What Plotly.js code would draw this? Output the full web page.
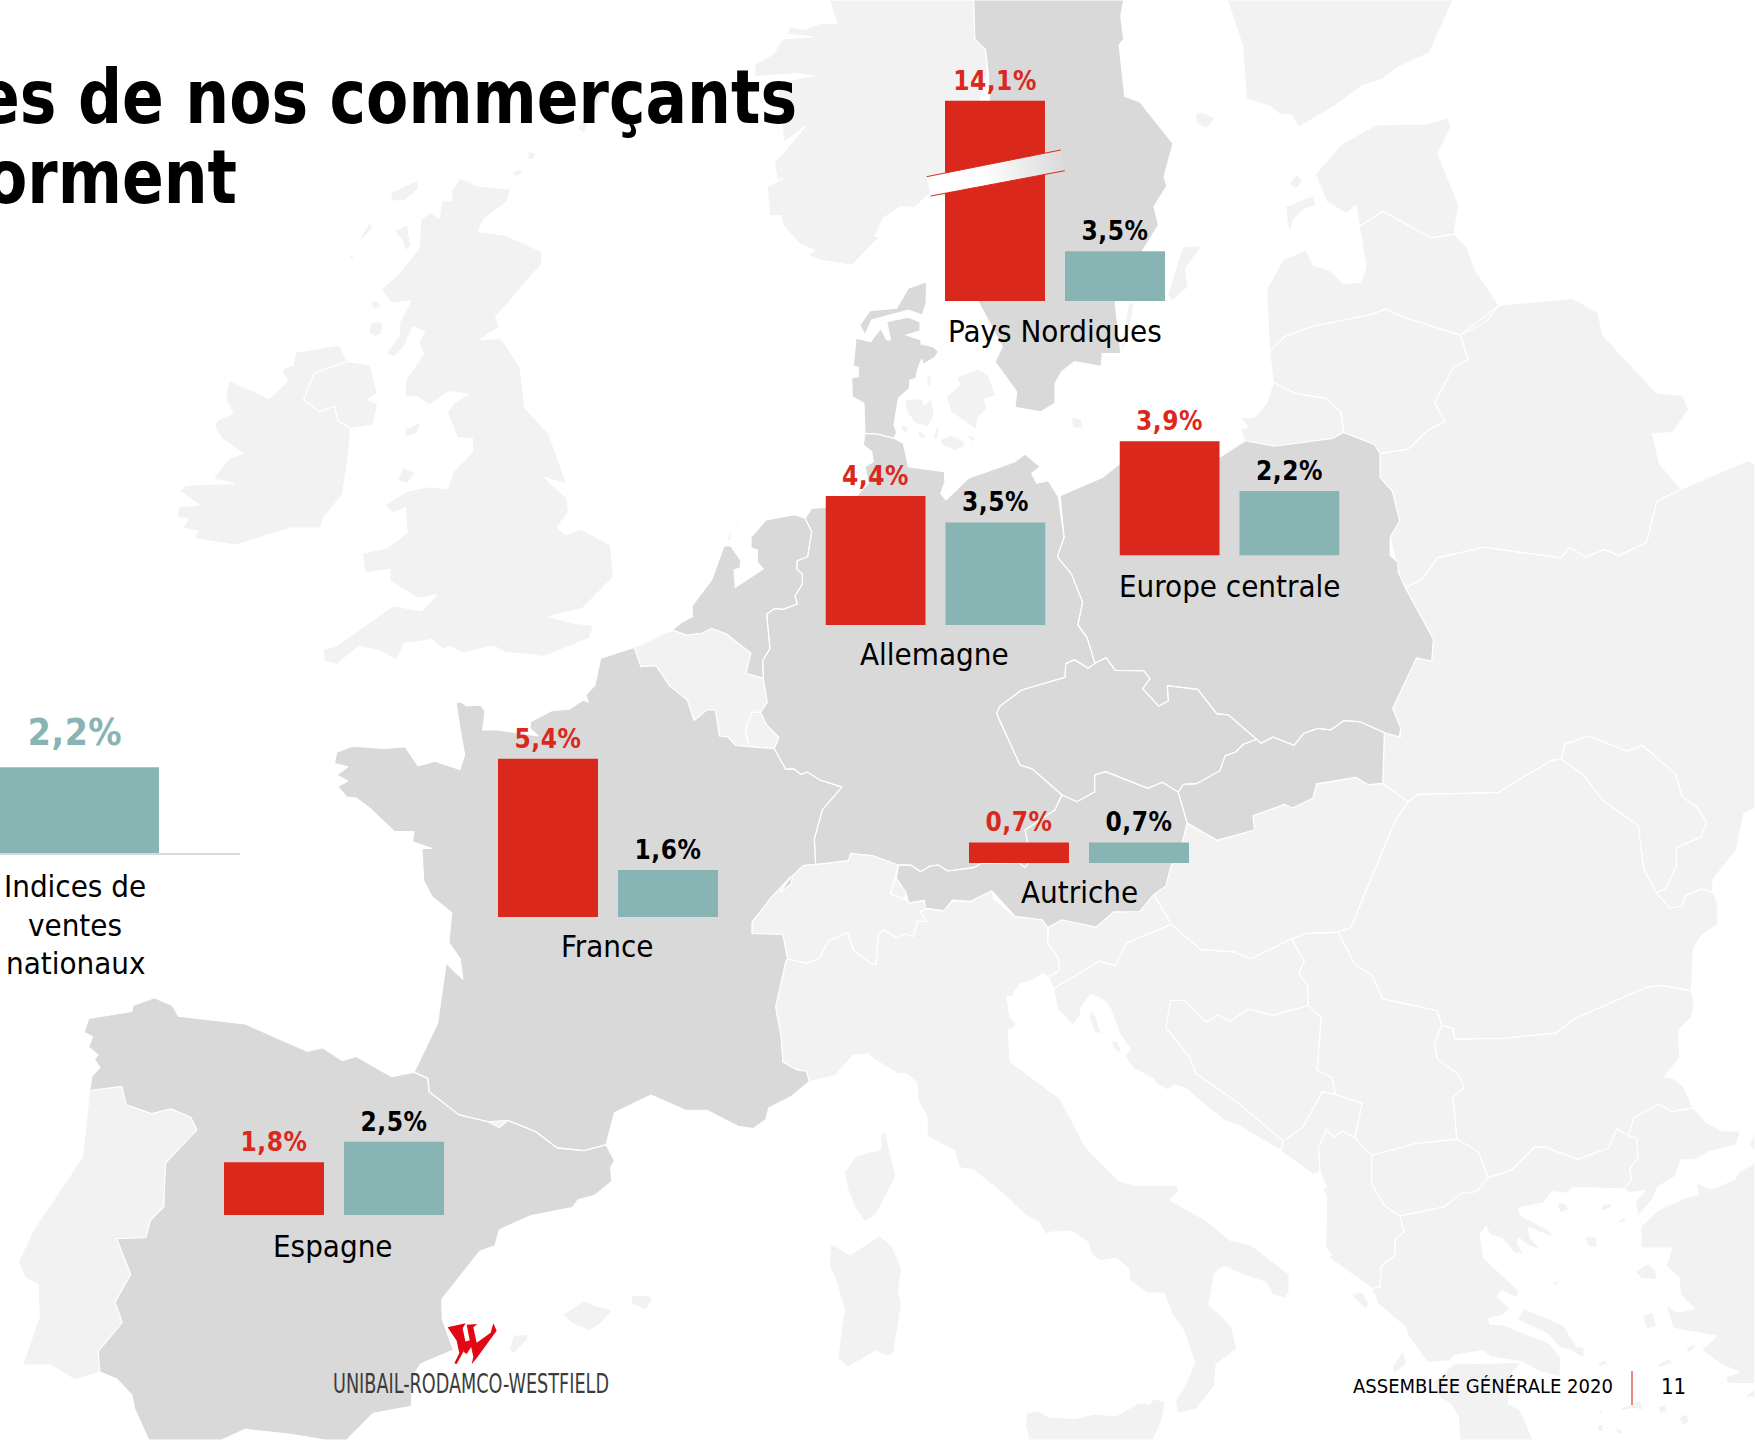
<!DOCTYPE html>
<html><head><meta charset="utf-8">
<script src="https://cdn.plot.ly/plotly-3.0.1.min.js"></script>
<style>html,body{margin:0;padding:0;background:#fff;overflow:hidden}</style>
</head><body><div id="chart" style="width:1755px;height:1440px"></div>
<script>
// ---------- data ----------
const groupNames = ['Pays Nordiques','Allemagne','Europe centrale','France','Espagne','Autriche'];
const commercants = [14.1,4.4,3.9,5.4,1.8,0.7];
const indicesNationaux = [3.5,3.5,2.2,1.6,2.5,0.7];
const seriesNames = ['Commerçants','Indices de ventes nationaux'];
const nationalName = ['Indices de','ventes','nationaux'];
const nationalValue = [2.2];
const titleLines = ['es de nos commerçants','orment'];
const footerText = 'ASSEMBLÉE GÉNÉRALE 2020';
const pageNumber = '11';
const logoText = 'UNIBAIL-RODAMCO-WESTFIELD';

// ---------- layout of the small charts on the page (pixels) ----------
const groupLeft = [945,825.5,1119.5,498,224,969];
const groupBase = [301,625,555.5,917,1215,863];
const groupPxPerPct = [14.2,29.3,29.3,29.3,29.3,29.3];
const groupLabelX = [1055,935,1229,607,333,1079];
const groupLabelY = [331,654,586,946,1246,892];

// ---------- background map ----------
const TILES = {A:[0,0,1.782,2.178],B:[875,0,1.782,2.178],C:[0,720,1.782,2.178],D:[875,720,1.782,2.178],
 G:[840,270,3,3],H:[640,500,3,3],I:[780,760,3,3],J:[1440,1120,3,3],K:[1000,620,3,3],L:[300,1300,3,3],M:[440,650,3,3],S:[0,0,.8934,.8934]};
const lightLand = [
// Ireland + N. Ireland
"A 605,752 527,767 522,795 502,805 512,830 480,868 408,828 402,870 415,900 388,915 382,928 395,955 433,987 410,997 380,1042 418,1053 330,1057 321,1070 355,1100 320,1103 315,1127 335,1130 326,1150 353,1157 346,1173 420,1187 518,1150 570,1150 578,1125 610,1078 620,1000 625,933 602,917 596,885 570,897 541,870 560,813 618,787",
"A 618,787 560,813 541,870 570,897 596,885 602,917 625,933 665,925 673,880 655,870 672,857 660,795",
// Great Britain
"A 820,388 805,415 805,437 787,437 783,475 767,463 750,478 747,540 712,595 680,630 697,660 732,655 712,703 712,730 688,770 703,778 722,750 735,712 757,722 746,745 755,770 722,830 722,866 742,863 765,882 800,853 835,858 812,875 797,897 815,953 842,955 842,985 808,1027 798,1065 765,1060 725,1070 685,1100 700,1118 722,1105 726,1160 690,1193 646,1205 650,1248 695,1240 695,1265 745,1303 778,1295 752,1330 700,1320 598,1408 576,1413 578,1440 600,1447 640,1408 678,1418 707,1438 720,1402 770,1393 790,1415 800,1408 825,1422 880,1407 900,1420 970,1430 1050,1390 1058,1362 1020,1357 978,1343 1038,1325 1093,1257 1088,1187 1035,1152 1008,1165 993,1148 1013,1115 1010,1085 970,1040 1010,1055 978,945 935,888 927,800 893,737 855,740 890,712 883,690 905,660 965,575 965,548 900,512 852,505 862,478 903,440 910,412 852,405",
"A 745,392 697,420 697,438 720,437 745,413","A 658,485 642,517 645,522 665,495","A 726,490 703,503 720,530 720,548 732,535","A 625,553 620,567 633,560","A 660,657 665,673 680,668 672,655","A 662,703 657,725 670,733 680,727 682,700","A 750,918 722,935 722,952 743,945","A 718,1017 708,1047 725,1053 740,1030","A 943,328 940,345 950,348 955,335","A 925,368 912,378 922,385 933,372","A 1080,165 1030,280 1040,290 1080,190",
// Norway
"B 176,0 A 1478,0 1492,52 1463,50 1435,64 1407,58 1403,74 1450,80 1395,85 1378,118 1345,140 1345,167 1420,160 1450,165 1385,180 1397,310 1435,275 1395,335 1380,352 1385,392 1395,388 1367,407 1372,470 1392,470 1395,490 1425,532 1452,545 1440,555 1462,567 1518,578 1552,535 1568,515 B 0,515 15,475 45,450 70,452 95,425 140,430 200,160 197,108 178,85",
// Danish islands
"G 195,390 248,385 250,405 275,385 282,435 265,470 225,460 200,425","G 350,322 415,297 445,315 468,378 430,388 442,415 415,440 408,480 378,458 332,425 320,380 360,345","G 260,320 276,315 272,345 262,350","G 300,510 330,495 375,515 370,530 345,542 305,525","G 378,495 408,503 398,518","G 183,465 205,472 200,490 185,482","G 238,483 258,497 248,508 232,495","G 290,468 300,470 290,510 280,505","G 425,487 447,480 445,487 428,492","B 350,908 368,913 370,935 352,930",
// Baltic islands
"B 548,537 583,535 553,585 558,625 528,657 522,640","B 452,658 462,660 450,740 438,770","B 572,248 580,243 607,257 590,280 572,268","B 738,400 752,378 762,395 750,412","B 732,450 782,425 785,450 765,455 745,480 740,505 735,490",
// Finland
"B 628,0 655,100 662,215 705,232 722,250 742,250 755,277 820,230 868,187 905,172 930,148 988,115 1030,0",
// Estonia, Latvia, Lithuania, Kaliningrad
"B 785,380 830,315 893,272 980,270 1020,257 1027,275 1003,335 1040,445 1032,510 990,518 905,460 863,493 857,448 840,465 805,440",
"B 698,630 727,565 768,545 782,578 812,590 835,618 865,615 875,582 863,493 905,460 990,518 1032,510 1055,538 1068,585 1112,665 1090,700 1043,730 940,690 910,673 885,685 782,710 730,733 703,765",
"B 703,765 730,733 782,710 885,685 910,673 940,690 1043,730 1057,783 1031,800 997,877 1016,918 986,936 950,978 900,988 890,968 835,942 830,897 805,868 750,857 710,833",
"B 710,833 750,857 805,868 830,897 835,942 815,955 712,972 660,960 650,935 665,930 650,910 675,910 697,880",
// Belarus
"B 1043,730 1112,665 1243,650 1288,680 1297,730 1392,855 1440,862 1450,892 1422,942 1385,945 1398,1010 1437,1065 1393,1092 1375,1182 1325,1210 1300,1197 1265,1213 1238,1192 1222,1215 1085,1192 1002,1215 975,1262 945,1280 932,1245 918,1170 935,1135 922,1070 900,1040 900,988 950,978 986,936 1016,918 997,877 1031,800 1057,783",
// Ukraine, Moldova
"B 945,1280 995,1392 992,1440 965,1433 922,1540 930,1568 D 937,37 908,28 905,138 950,178 968,162 1110,158 1205,88 1223,85 1230,52 1272,35 1340,68 1367,55 1427,118 1438,167 1465,190 1482,222 1472,255 1428,278 1428,320 1408,368 1393,377 1416,410 1438,405 1445,382 1472,368 1493,375 1493,348 1535,283 1548,205 1568,193 B 1568,1010 1555,1003 1437,1065 1393,1092 1375,1182 1325,1210 1300,1197 1265,1213 1238,1192 1222,1215 1085,1192 1002,1215 975,1262",
"D 1223,85 1230,52 1272,35 1340,68 1367,55 1427,118 1438,167 1465,190 1482,222 1472,255 1428,278 1428,320 1408,368 1393,377 1370,325 1360,230 1297,175 1263,120",
// Belgium, Luxembourg
"A 1130,1410 H 97,390 140,405 185,400 215,385 260,402 333,460 318,520 370,535 382,607 362,637 335,637 316,690 327,740 286,736 265,712 238,708 226,630 200,630 162,662 142,600 88,557 48,497 0,500 A 1142,1452",
"H 335,637 362,637 380,675 417,712 403,746 327,740 316,690",
"H 260,120 270,98 276,98 272,122","H 283,80 295,68 298,72 287,84","H 312,60 325,52 327,56 315,64","H 347,46 358,41 359,44 349,49","H 380,38 392,36 392,39 381,41",
// Switzerland, Liechtenstein
"I 107,313 205,302 212,280 280,287 355,315 345,353 332,402 372,418 392,428 437,422 437,447 420,455 440,485 412,483 400,530 375,522 350,533 310,510 295,525 288,613 272,610 220,570 203,518 145,543 118,595 80,610 20,596 C 1403,520 1395,467 1340,465 1340,440 1375,385 1410,340 I 0,398 33,372 37,348 70,316",
"I 347,353 380,395 372,418 332,402",
// Italy
"I 20,596 80,610 118,595 145,543 203,518 220,570 272,610 288,613 295,525 310,510 350,533 375,522 400,530 412,483 440,485 420,455 437,447 490,453 520,422 570,425 610,397 635,390 640,415 705,470 782,477 805,503 803,550 835,595 838,630 808,655 790,640 760,660 720,672 695,710 680,710 690,770 706,785 706,800 685,812 690,905 D 242,745 330,825 375,930 435,1003 460,1013 538,1013 542,1025 525,1045 590,1090 633,1133 670,1143 738,1207 738,1245 730,1260 708,1250 697,1225 655,1208 622,1190 605,1205 595,1275 615,1295 635,1320 645,1370 608,1403 605,1450 573,1500 540,1510 535,1485 552,1450 570,1400 550,1330 530,1295 515,1248 485,1248 455,1222 452,1195 430,1172 400,1178 385,1162 380,1138 350,1113 315,1115 305,1120 292,1095 268,1078 222,1025 175,980 150,975 142,938 93,907 93,865 77,830 75,790 55,770 40,770 0,740 C 1545,727 1520,730 1488,775 1440,788 1437,765 1420,762 1395,745 1392,690 1382,625 1400,527",
"C 1505,985 1510,1020 1525,1065 1540,1092 1558,1080 D 5,1070 37,995 25,930 18,893 10,905 10,935 0,940 C 1568,935 1525,950",
"C 1480,1140 1515,1165 1568,1122 D 0,1115 30,1145 48,1195 42,1240 47,1275 33,1380 22,1385 0,1375 C 1510,1410 1493,1390 1500,1320 1505,1285 1488,1215 1478,1190",
"D 270,1510 290,1505 310,1518 355,1522 390,1512 430,1515 470,1488 490,1490 495,1478 518,1485 510,1530 495,1568 275,1568 268,1535",
"C 1003,1295 1040,1265 1060,1275 1092,1285 1070,1315 1050,1330 1020,1315","C 1125,1252 1155,1253 1163,1262 1150,1285 1125,1270","C 908,1370 915,1340 940,1338 940,1350 915,1380",
"C 870,875 890,866 905,872 890,888",
// Slovenia, Hungary, Romania, Bulgaria
"D 308,452 333,435 394,451 425,418 472,417 497,380 528,445 449,485 428,535 400,525 318,585 308,558 329,545 327,518 308,487",
"D 555,225 610,262 675,240 673,208 735,183 745,192 780,170 787,140 855,125 880,142 905,138 950,178 925,225 848,452 825,462 768,465 742,477 670,520 640,505 580,500 528,445 497,380 518,362 527,320",
"D 950,178 968,162 1110,158 1205,88 1223,85 1263,120 1297,175 1360,230 1370,325 1393,377 1416,410 1438,405 1445,382 1472,368 1493,375 1502,400 1502,445 1472,470 1458,500 1455,590 1400,578 1375,582 1247,650 1213,682 1120,693 1033,695 1030,672 1010,665 1002,633 905,607 885,555 855,532 825,462 848,452 925,225",
"D 1455,590 1460,620 1455,648 1432,675 1434,735 1407,777 1422,780 1440,797 1458,845 1420,853 1397,836 1353,866 1342,905 1322,890 1308,932 1252,957 1193,930 1175,930 1135,980 1093,997 1075,940 1037,913 1030,822 1050,800 1038,770 1003,740 997,705 1010,665 1030,672 1033,695 1120,693 1213,682 1247,650 1375,582 1400,578",
// Serbia, Montenegro, Albania, N. Macedonia, Croatia, Bosnia
"D 742,477 768,465 825,462 855,532 885,555 905,607 1002,633 1010,665 997,705 1003,740 1038,770 1050,800 1030,822 1037,913 965,922 885,948 855,910 868,835 820,815 815,780 788,762 795,648 772,622 771,578 755,552 765,525",
"D 727,917 762,888 797,810 820,815 868,835 855,910 833,895 818,908 805,893 790,930 793,985 780,990 723,938",
"D 790,930 805,893 818,908 833,895 855,910 885,948 885,1010 908,1058 935,1080 943,1115 927,1130 927,1165 902,1190 900,1235 885,1238 808,1170 815,1165 803,1150 805,1040 798,1020 805,1017 793,985",
"D 885,948 965,922 1037,913 1075,940 1093,997 1072,1027 1042,1032 1015,1060 935,1080 908,1058 885,1010",
"D 318,585 400,525 428,535 449,485 528,445 580,500 640,505 670,520 742,477 765,525 755,552 771,578 772,622 710,643 665,630 632,657 612,642 590,658 552,611 527,611 518,670 560,733 572,770 648,835 727,917 723,938 650,885 620,870 585,835 555,803 535,795 520,805 500,790 497,783 460,758 445,732 455,717 435,680 420,630 408,610 385,597 368,625 365,645 352,665 325,628 320,590",
"D 552,611 590,658 612,642 632,657 665,630 710,643 772,622 795,648 788,762 815,780 820,815 797,810 762,888 727,917 648,835 572,770 560,733 518,670 527,611",
"D 385,630 395,650 403,685 392,680 382,650","D 420,700 432,700 440,725 430,722",
// Greece
"D 885,1238 900,1235 902,1190 927,1165 927,1130 943,1115 935,1080 1015,1060 1042,1032 1072,1027 1093,997 1135,980 1175,930 1193,930 1252,957 1308,932 1322,890 1342,905 1357,910 1360,953 1345,978 1348,1000 1335,1022 J 553,207 400,202 380,220 335,215 312,248 235,265 240,285 335,335 335,350 263,322 270,350 295,380 295,388 262,375 235,352 232,370 252,400 225,400 185,355 150,345 138,318 120,345 132,415 235,510 232,535 185,510 172,530 210,565 190,585 145,595 150,612 190,615 330,670 362,712 360,770 300,755 245,725 150,710 130,692 45,705 D 1025,1395 985,1400 950,1340 945,1322 897,1272",
"J 245,727 215,760 205,850 240,870 280,960 60,960 55,890 30,850 0,835 -20,800 -20,785 0,770 40,732",
"J 232,600 250,565 370,615 410,680 432,682 432,715 390,690 360,682 320,640",
"J 350,250 375,248 388,268 362,278","J 485,255 513,250 515,262 485,275","J 527,310 553,290 558,305","J 433,352 467,348 472,385 445,378","J 585,455 625,430 645,448 652,480 605,475","J 608,588 637,576 650,617 620,628","J 337,490 355,480 357,487 345,500","J 258,523 275,525 272,530","J 300,515 315,522 308,527","J 652,735 690,715 695,730 660,742","J 472,730 498,720 503,733 480,740","J 738,683 763,672 767,685 745,698","J 470,870 490,872 485,883","J 655,860 675,855 682,873 660,882","J 718,895 738,880 748,905 730,917","J 543,865 600,840 610,870 580,865 543,872","J 475,915 490,912 488,935 472,935","J 530,920 548,935 538,945 527,935","J 610,950 630,955 620,960","J 818,858 835,845 822,865",
"D 940,1375 948,1400 925,1425 922,1410","D 852,1250 868,1245 880,1270 875,1283 852,1258",
// Turkey
"D 1353,866 1397,836 1420,853 1458,845 1480,875 1510,895 1542,895 1535,925 1487,940 1462,958 1437,958 1425,995 1395,1017 1385,1045 1360,1080 1355,1050 1372,1025 1345,1030 1335,1022 1348,1000 1345,978 1360,953 1357,910 1342,905",
"D 1568,965 1538,985 1533,1000 1490,1022 1463,1008 1468,1033 1445,1040 1395,1068 1365,1103 1365,1150 1420,1150 1410,1190 1433,1215 1435,1252 1460,1282 1430,1290 1410,1275 1422,1325 1500,1342 1473,1372 1510,1405 1540,1420 1515,1432 1520,1445 1568,1445",
"D 1568,1455 1550,1475 1568,1475","D 1568,895 1558,925 1568,940",
// Portugal
"C 160,807 217,798 225,838 270,857 305,847 340,865 351,893 295,965 292,1060 268,1090 260,1127 208,1130 233,1207 205,1268 218,1312 175,1375 178,1420 133,1437 90,1405 40,1405 70,1300 68,1230 45,1215 33,1180 60,1110 110,1020 147,952"
];
const darkLand = [
// Sweden
"B 176,0 178,85 197,108 202,160 210,440 G 415,95 487,230 465,275 530,365 525,412 603,425 645,400 645,340 665,305 703,275 B 403,798 405,770 438,770 428,660 470,560 505,490 497,450 520,405 515,385 531,313 472,222 445,210 435,98 443,85 438,35 443,0",
// Denmark
"G 260,35 258,100 247,135 205,120 95,150 75,195 60,165 90,122 170,115 205,55",
"G 140,155 205,142 240,155 240,183 198,195 243,210 243,222 280,230 295,245 285,262 250,283 245,268 232,300 228,325 210,330 208,355 175,385 162,465 170,487 162,505 110,492 75,490 72,400 37,380 35,322 55,320 55,292 40,288 48,205 92,215 122,175 140,210 152,210",
// Germany
"G 75,490 110,492 162,505 190,520 205,590 313,605 315,635 302,670 318,690 345,665 385,625 525,575 555,552 600,590 575,610 590,640 625,632 655,680 B 337,1170 325,1213 350,1250 370,1312 362,1360 K 233,15 262,55 285,130 264,145 224,119 197,131 195,172 65,210 0,258 -10,280 0,305 60,435 97,447 186,525 I 845,105 825,150 735,210 742,243 745,310 735,322 715,308 605,310 580,323 503,333 475,315 450,318 422,335 392,315 355,315 280,287 212,280 205,302 107,313 103,237 127,150 185,82 H 605,860 540,840 502,816 483,823 460,806 437,808 403,746 417,712 380,675 362,637 382,607 370,535 368,482 390,445 380,342 405,325 430,328 472,312 465,288 487,252 487,222 470,207 472,182 503,170 515,95 495,55 515,25 558,22 G 50,678 85,640 75,590 100,575 95,545 70,525",
// Netherlands
"H 495,55 515,95 503,170 472,182 470,207 487,222 487,252 465,288 472,312 430,328 405,325 380,342 390,445 368,482 370,535 318,520 333,460 260,402 215,385 185,400 140,405 97,390 125,367 158,350 156,318 215,240 252,138 272,138 303,182 300,203 282,210 286,262 370,207 352,187 352,150 333,143 333,112 378,60 463,44",
// Poland
"B 330,1080 405,1040 436,1010 615,995 660,960 712,972 815,955 835,942 890,968 900,988 900,1040 922,1070 935,1135 918,1170 918,1210 932,1225 932,1245 945,1280 995,1392 992,1440 965,1433 K 1178,265 1202,325 1198,350 1153,338 1080,305 1032,302 992,330 955,325 912,340 882,376 820,351 783,370 770,358 686,285 650,281 593,208 502,197 505,243 476,258 428,206 450,176 431,152 346,151 318,113 285,130 262,55 233,15 B 362,1360 370,1312 350,1250 325,1213 337,1170",
// Czechia
"K 285,130 318,113 346,151 431,152 450,176 428,206 476,258 505,243 502,197 593,208 650,281 686,285 770,358 730,373 707,396 675,408 660,452 590,491 550,493 535,517 487,487 443,505 317,455 284,465 284,516 231,545 186,525 97,447 60,435 0,305 -10,280 0,258 65,210 195,172 197,131 224,119 264,145",
// Slovakia
"K 535,517 550,493 590,491 660,452 675,408 707,396 730,373 770,358 783,370 820,351 882,376 912,340 955,325 992,330 1032,302 1080,305 1153,338 1148,490 1105,494 1067,472 950,491 938,535 878,564 853,553 759,587 763,630 651,661 561,608",
// Austria
"K 186,525 231,545 284,516 284,465 317,455 443,505 487,487 535,517 561,608 547,666 D 527,320 518,362 497,380 472,417 425,418 394,451 333,435 308,452 298,435 250,428 208,372 170,395 138,392 123,415 90,410 88,393 60,398 55,375 38,345 42,316 I 392,315 422,335 450,318 475,315 503,333 580,323 605,310 715,308 735,322 745,310 742,243 735,210 825,150 845,105",
// France
"A 1130,1410 1142,1452 H 0,500 48,497 88,557 142,600 162,662 200,630 226,630 238,708 265,712 286,736 327,740 403,746 437,808 460,806 483,823 502,816 540,840 605,860 I 185,82 127,150 103,237 107,313 70,316 37,348 33,372 0,398 C 1410,340 1375,385 1340,440 1340,465 1395,467 1403,520 1400,527 1382,625 1392,690 1395,745 1420,762 1437,765 1442,788 1410,820 1370,845 1365,870 1342,890 1315,885 1260,850 1222,850 1160,817 1095,855 1080,925 1040,938 993,932 955,897 905,872 870,875 818,860 765,810 762,780 738,767 780,660 795,530 825,565 820,520 800,485 805,420 770,385 755,350 752,280 770,280 735,265 738,243 703,243 660,193 635,170 618,168 602,145 620,133 600,120 620,102 596,95 600,70 628,57 685,62 722,58 745,100 775,90 820,108 828,75 M 60,235 48,158 62,155 80,168 120,165 135,182 128,240 172,240 295,258 270,235 272,215 335,182 388,178 430,150 445,157 438,135 465,105 482,25",
// Spain
"C 160,807 164,775 178,757 168,738 175,730 158,712 165,690 150,680 158,650 235,635 237,622 275,605 307,622 318,645 437,662 548,722 575,714 610,742 635,733 698,777 738,767 762,780 765,810 818,860 870,875 890,888 905,872 955,897 993,932 1040,938 1080,925 1095,960 1088,975 1090,1005 1060,1035 1030,1045 1020,1062 945,1080 890,1110 882,1145 855,1157 787,1262 788,1305 808,1372 750,1402 735,1430 733,1495 665,1510 618,1568 580,1568 515,1555 437,1545 395,1568 265,1568 240,1500 235,1470 208,1435 178,1420 175,1375 218,1312 205,1268 233,1207 208,1130 260,1127 268,1090 292,1060 295,965 351,893 340,865 305,847 270,857 225,838 217,798"
];
const logoMark = ["L 443,82 497,70 488,85 497,128 490,155 470,192 463,190 478,160 470,122","L 500,74 532,72 520,82 530,128 572,98 580,70 590,92 568,122 532,172 515,193 520,170 510,125","L 494,125 512,120 514,140 500,162 490,155"];

// ---------- helpers ----------
const W=1755,H=1440, RED='#db281c', TEAL='#88b4b4', DARK='#d9d9d9', LIGHT='#f2f2f2';
const FONT='"DejaVu Sans Condensed","DejaVu Sans",sans-serif';
function parsePts(s){let t=TILES.A,o=[];s.split(/\s+/).forEach(k=>{if(TILES[k]){t=TILES[k];return;}const p=k.split(',').map(Number);o.push([t[0]+p[0]/t[2],t[1]+p[1]/t[3]]);});return o;}
function landTrace(list,color){const x=[],y=[];list.forEach(s=>{const q=parsePts(s);q.forEach(p=>{x.push(p[0]);y.push(p[1]);});x.push(q[0][0],null);y.push(q[0][1],null);});
 return {type:'scatter',mode:'lines',x,y,xaxis:'x',yaxis:'y',fill:'toself',fillcolor:color,line:{color:'#ffffff',width:1.1},hoverinfo:'skip',showlegend:false};}
const pct=v=>v.toFixed(1).replace('.',',')+'%';
const px=v=>v/W, py=v=>1-v/H;

const traces=[landTrace(lightLand,LIGHT),landTrace(darkLand,DARK)];
const layout={width:W,height:H,margin:{l:0,r:0,t:0,b:0},paper_bgcolor:'#fff',plot_bgcolor:'rgba(0,0,0,0)',showlegend:false,barmode:'overlay',dragmode:false,
 font:{family:FONT,color:'#000'},
 xaxis:{domain:[0,1],range:[0,W],visible:false,fixedrange:true},
 yaxis:{domain:[0,1],range:[H,0],visible:false,fixedrange:true},
 shapes:[],annotations:[]};

// paired bars, one small chart per region
const barW=100, pitch=120, LABEL_SIZE=31;
groupNames.forEach((name,i)=>{
 const n=i+2, xa='x'+n, ya='y'+n, maxV=Math.max(commercants[i],indicesNationaux[i])*1.05;
 const half=barW/pitch/2;
 layout['xaxis'+n]={domain:[px(groupLeft[i]),px(groupLeft[i]+pitch+barW)],range:[-half,1+half],type:'linear',visible:false,fixedrange:true,anchor:ya};
 layout['yaxis'+n]={domain:[py(groupBase[i]),py(groupBase[i]-maxV*groupPxPerPct[i])],range:[0,maxV],visible:false,fixedrange:true,anchor:xa};
 const vals=[commercants[i],indicesNationaux[i]];
 traces.push({type:'bar',x:[0,1],y:vals,width:barW/pitch,xaxis:xa,yaxis:ya,name:name,
  marker:{color:[RED,TEAL],line:{width:0}},text:vals.map(pct),textposition:'outside',cliponaxis:false,constraintext:'none',
  textfont:{family:FONT,size:26,weight:700,color:[RED,'#000']},hoverinfo:'skip'});
 layout.annotations.push({xref:'paper',yref:'paper',x:px(groupLabelX[i]),y:py(groupLabelY[i]),text:name,showarrow:false,xanchor:'center',yanchor:'middle',font:{family:FONT,size:LABEL_SIZE,color:'#000'}});
});

// national index bar (left), cut by the page edge
{const n=groupNames.length+2, base=853, perPct=39, center=75, bw=168, right=240;
 layout['xaxis'+n]={domain:[0,px(right)],range:[-center/bw,(right-center)/bw],type:'linear',fixedrange:true,anchor:'y'+n,showline:true,linecolor:DARK,linewidth:2,showgrid:false,zeroline:false,showticklabels:false,ticks:''};
 layout['yaxis'+n]={domain:[py(base),py(base-nationalValue[0]*1.05*perPct)],range:[0,nationalValue[0]*1.05],visible:false,fixedrange:true,anchor:'x'+n};
 traces.push({type:'bar',x:[0],y:nationalValue,width:1,xaxis:'x'+n,yaxis:'y'+n,name:seriesNames[1],marker:{color:TEAL,line:{width:0}},text:nationalValue.map(pct),textposition:'outside',cliponaxis:false,constraintext:'none',textfont:{family:FONT,size:37,weight:700,color:TEAL},hoverinfo:'skip'});
 nationalName.forEach((t,k)=>layout.annotations.push({xref:'paper',yref:'paper',x:px(75),y:py(886+k*38.5),text:t,showarrow:false,xanchor:'center',yanchor:'middle',font:{family:FONT,size:LABEL_SIZE,color:'#000'}}));
}

// "broken bar" band across the tallest bar
{const a=[926.7,176.7],b=[1060.7,150],c=[930.7,196],d=[1064.7,170.7],N=24;
 const lerp=(p,q,t)=>[p[0]+(q[0]-p[0])*t,p[1]+(q[1]-p[1])*t];
 const mix=t=>{const v=Math.round(255-(255-217)*t);return `rgb(${v},${v},${v})`;};
 for(let k=0;k<N;k++){const t0=k/N,t1=(k+1.3)/N>1?1:(k+1.3)/N,p1=lerp(a,b,t0),p2=lerp(a,b,t1),p3=lerp(c,d,t1),p4=lerp(c,d,t0);
  const g=t0<.38?0:(t0-.38)/.62;
  layout.shapes.push({type:'path',xref:'x',yref:'y',layer:'above',fillcolor:mix(g),line:{width:0},path:`M${p1[0]},${p1[1]}L${p2[0]},${p2[1]}L${p3[0]},${p3[1]}L${p4[0]},${p4[1]}Z`});}
 [[a,b],[c,d]].forEach(s=>layout.shapes.push({type:'line',xref:'x',yref:'y',layer:'above',x0:s[0][0],y0:s[0][1],x1:s[1][0],y1:s[1][1],line:{color:RED,width:1}}));
}

// logo mark + footer divider
const pathOf=s=>'M'+parsePts(s).map(q=>q.join(',')).join('L')+'Z';
logoMark.forEach(s=>layout.shapes.push({type:'path',xref:'x',yref:'y',layer:'above',fillcolor:'#e30613',line:{width:0},path:pathOf(s)}));
layout.shapes.push({type:'line',xref:'x',yref:'y',layer:'above',x0:1632,x1:1632,y0:1371,y1:1405,line:{color:'#e2625a',width:1.5}});

// title, footer
const note=(t,x,y,anchor,size,extra)=>layout.annotations.push(Object.assign({xref:'paper',yref:'paper',x:px(x),y:py(y),text:t,showarrow:false,xanchor:anchor,yanchor:'middle',font:{family:FONT,size:size,color:'#000'}},extra||{}));
note(titleLines[0],799,97,'right',75,{font:{family:FONT,size:75,weight:700,color:'#000'}});
note(titleLines[1],239,177,'right',75,{font:{family:FONT,size:75,weight:700,color:'#000'}});
note(footerText,1615,1386,'right',20);
note(pageNumber,1673,1386,'center',22);
note(logoText,471,1383,'center',27,{font:{family:FONT,size:27,color:'#3c3c3c'}});

Plotly.newPlot('chart',traces,layout,{displayModeBar:false,staticPlot:true}).then(()=>{
 // fine text fitting that Plotly has no option for
 const texts=[...document.querySelectorAll('.annotation-text')];
 const byText=t=>texts.find(e=>e.textContent===t);
 const squeeze=(e,target)=>{e.setAttribute('textLength',String(target));e.setAttribute('lengthAdjust','spacingAndGlyphs');};
 const logo=byText(logoText); if(logo) squeeze(logo,276);
 const f=0.913;
 [byText(titleLines[0]),byText(titleLines[1])].forEach(e=>{if(!e)return;
  const w=e.getComputedTextLength();
  const shift=(w-w*f)/2; squeeze(e,w*f);
  e.setAttribute('transform',`translate(${shift},0)`);
 });
 document.querySelectorAll('.bartext').forEach(e=>{
  const big=e.style.fontSize==='37px';
  e.style.letterSpacing='0.5px';
  e.setAttribute('transform',`translate(0,${big?-10:-2}) `+(e.getAttribute('transform')||''));
 });
});
</script></body></html>
